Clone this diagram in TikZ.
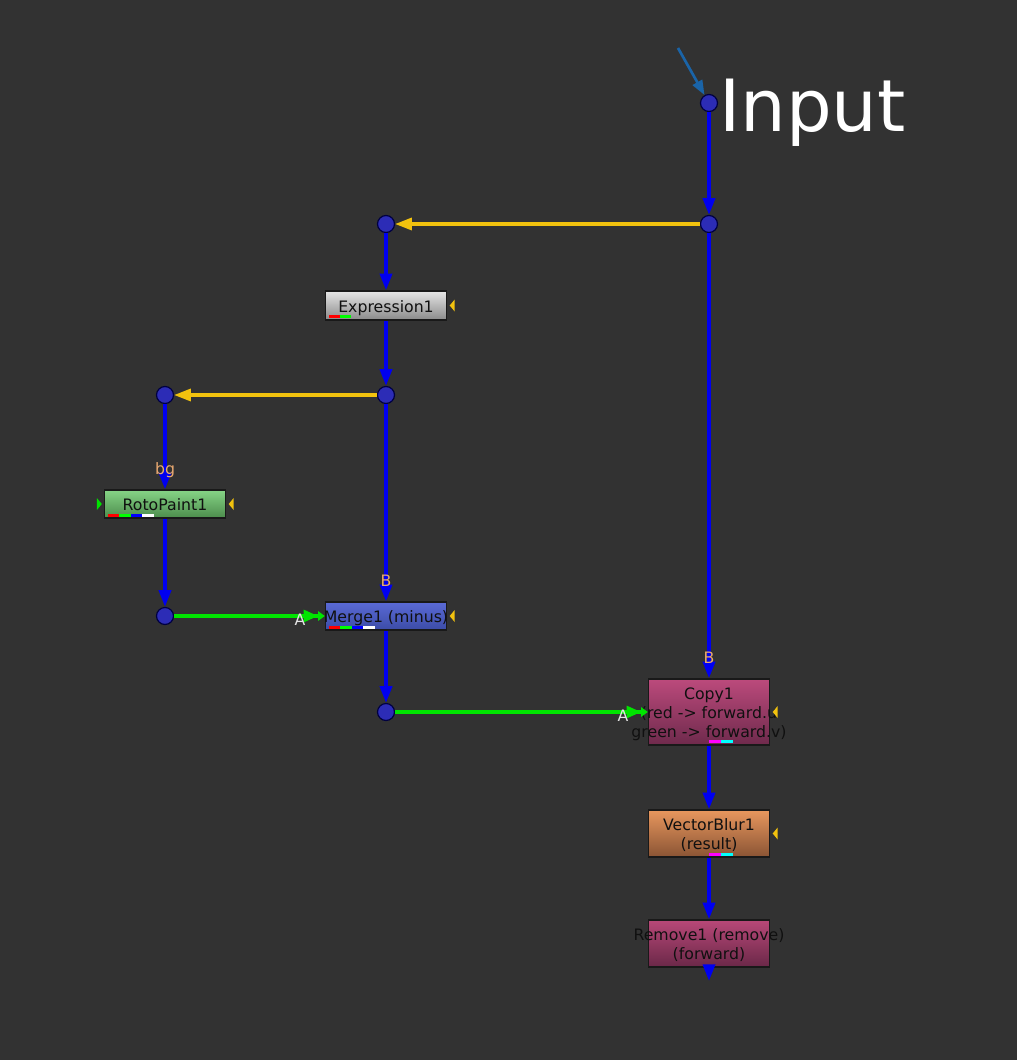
\documentclass[tikz,border=0pt]{standalone}
\usepackage{xcolor}
\usepackage{fontspec}
\setmainfont{DejaVu Sans}
\usepackage{tikz}
\usetikzlibrary{arrows.meta, positioning}

\definecolor{bgdark}{HTML}{323232}
\definecolor{dotblue}{HTML}{2C2CB6}
\definecolor{linkblue}{HTML}{0000F0}
\definecolor{linkyellow}{HTML}{F2C20E}
\definecolor{linkgreen}{HTML}{00E400}
\definecolor{inblue}{HTML}{1A64A8}
\definecolor{lblorange}{HTML}{E8A870}
\definecolor{lblwhite}{HTML}{E4E4E4}
\definecolor{nodetext}{HTML}{101010}
\definecolor{chmag}{HTML}{FF00FF}
\definecolor{chcyan}{HTML}{00FFFF}
\newcommand{\nukefont}{\fontsize{11.8}{14.3}\selectfont}
% text may run past the box, as in the node graph
\newcommand{\spill}[1]{\makebox[0pt]{\raisebox{-5.2pt}[0pt][0pt]{\begin{tabular}{@{}c@{}}#1\end{tabular}}}}

\begin{document}
\begin{tikzpicture}[
    x=0.75pt, y=-0.75pt,
    dot/.style={circle, draw=black!75!blue, line width=0.9pt, fill=dotblue, minimum size=12.75pt, inner sep=0pt},
    nukenode/.style={draw=black!90, line width=1pt, rectangle, minimum width=90.75pt, inner sep=0pt, font=\nukefont, text=nodetext},
    exprbox/.style={nukenode, minimum height=21.75pt, top color=black!10, bottom color=black!46},
    rotobox/.style={nukenode, minimum height=21pt, top color={rgb,255:red,134;green,212;blue,134}, bottom color={rgb,255:red,76;green,140;blue,76}},
    mergebox/.style={nukenode, minimum height=21pt, top color={rgb,255:red,90;green,106;blue,214}, bottom color={rgb,255:red,60;green,76;blue,166}},
    copybox/.style={nukenode, minimum height=49.5pt, top color={rgb,255:red,188;green,74;blue,124}, bottom color={rgb,255:red,110;green,42;blue,76}},
    blurbox/.style={nukenode, minimum height=35.25pt, top color={rgb,255:red,232;green,151;blue,94}, bottom color={rgb,255:red,138;green,84;blue,52}},
    removebox/.style={nukenode, minimum height=35.25pt, top color={rgb,255:red,184;green,72;blue,120}, bottom color={rgb,255:red,106;green,40;blue,72}},
    bluearrow/.style={-{Triangle[length=12.5pt, width=9pt]}, line width=2.6pt, draw=linkblue},
    yellowarrow/.style={-{Triangle[length=12.5pt, width=9pt]}, line width=2.3pt, draw=linkyellow},
    greenarrow/.style={-{Triangle[length=11pt, width=9pt] Triangle[length=5pt, width=7pt]}, line width=2.3pt, draw=linkgreen},
    lbl/.style={font=\nukefont, inner sep=0pt}
]

% Background
\path[fill=bgdark, use as bounding box] (0,0) rectangle (1017,1060);

% Dots
\node (input) [dot] at (709,103) {};
\node (dot2) [dot] at (709,224) {};
\node (dot3) [dot] at (386,224) {};
\node (dot4) [dot] at (386,395) {};
\node (dot5) [dot] at (165,395) {};
\node (dot6) [dot] at (165,616) {};
\node (dot7) [dot] at (386,712) {};
\coordinate (instart) at (678,48);
\coordinate (out) at (709,981);

% Nodes
\node (expr) [exprbox] at (386,305.5) {\spill{Expression1}};
\node (roto) [rotobox] at (165,504) {\spill{RotoPaint1}};
\node (merge) [mergebox] at (386,616) {\spill{Merge1 (minus)}};
\node (copy) [copybox] at (709,712) {\spill{Copy1\\(red -> forward.u\\green -> forward.v)}};
\node (vblur) [blurbox] at (709,833.5) {\spill{VectorBlur1\\(result)}};
\node (remove) [removebox] at (709,943.5) {\spill{Remove1 (remove)\\(forward)}};
\node (title) [anchor=base west, inner sep=0pt, text=white, font=\fontsize{54}{60}\selectfont] at (719,131) {Input};

% Channel bars
\foreach \c [count=\i] in {red,green}
    \fill[\c] ([shift={(4+11*\i-11,-6)}]expr.south west) rectangle ++(11,3);
\foreach \c [count=\i] in {red,green,blue,white}
    \fill[\c] ([shift={(4+11.5*\i-11.5,-5)}]roto.south west) rectangle ++(11.5,3.5);
\foreach \c [count=\i] in {red,green,blue,white}
    \fill[\c] ([shift={(4+11.5*\i-11.5,-5)}]merge.south west) rectangle ++(11.5,3.5);
\foreach \c [count=\i] in {chmag,chcyan}
    \fill[\c] ([shift={(12*\i-12,-6)}]copy.south) rectangle ++(12,3.5);
\foreach \c [count=\i] in {chmag,chcyan}
    \fill[\c] ([shift={(12*\i-12,-5)}]vblur.south) rectangle ++(12,3.5);

% Mask and side inputs
\foreach \n in {expr,roto,merge,copy,vblur}
    \fill[linkyellow] ([shift={(2.5,0)}]\n.east) -- ++(5,-6) -- ++(0,12) -- cycle;
\fill[linkgreen] ([shift={(-2,0)}]roto.west) -- ++(-5,-6) -- ++(0,12) -- cycle;

% Paths
\draw [-{Triangle[length=11pt, width=8pt]}, line width=2pt, draw=inblue] (instart) -- (input);
\draw [bluearrow] (input) -- (dot2);
\draw [yellowarrow] (dot2) -- (dot3);
\draw [bluearrow] (dot3) -- (expr);
\draw [bluearrow] (expr) -- (dot4);
\draw [yellowarrow] (dot4) -- (dot5);
\draw [bluearrow] (dot5) -- (roto);
\draw [bluearrow] (roto) -- (dot6);
\draw [greenarrow] (dot6) -- (merge);
\draw [bluearrow] (dot4) -- (merge);
\draw [bluearrow] (merge) -- (dot7);
\draw [greenarrow] (dot7) -- (copy);
\draw [bluearrow] (dot2) -- (copy);
\draw [bluearrow] (copy) -- (vblur);
\draw [bluearrow] (vblur) -- (remove);
\draw [bluearrow] (remove) -- (out);

% Input labels
\node (lblbg) [lbl, text=lblorange] at (165,470) {bg};
\node (lblmergeb) [lbl, text=lblorange] at (386,581) {B};
\node (lblmergea) [lbl, text=lblwhite] at (300,620) {A};
\node (lblcopyb) [lbl, text=lblorange] at (709,658) {B};
\node (lblcopya) [lbl, text=lblwhite] at (623,716) {A};

\end{tikzpicture}
\end{document}
